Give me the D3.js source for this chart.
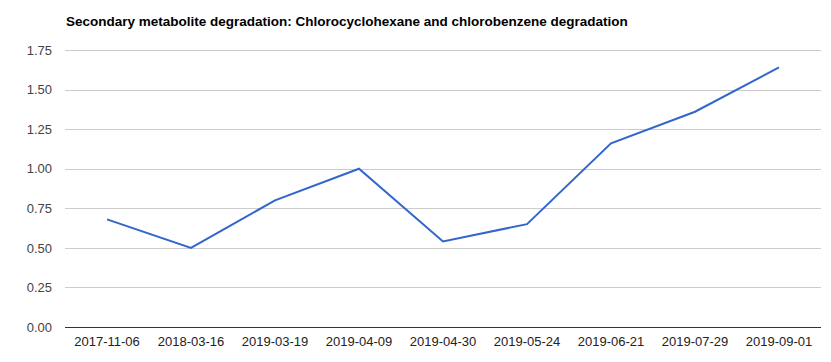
<!DOCTYPE html>
<html>
<head>
<meta charset="utf-8">
<script src="https://cdn.jsdelivr.net/npm/d3@7"></script>
<style>
  body { margin: 0; background: #fff; }
  text { font-family: Arial, "Liberation Sans", sans-serif; }
</style>
</head>
<body>
<div id="chart"></div>
<script>
const title = "Secondary metabolite degradation: Chlorocyclohexane and chlorobenzene degradation";
const dates = ["2017-11-06", "2018-03-16", "2019-03-19", "2019-04-09", "2019-04-30",
               "2019-05-24", "2019-06-21", "2019-07-29", "2019-09-01"];
const values = [0.68, 0.50, 0.80, 1.00, 0.54, 0.65, 1.16, 1.36, 1.64];
const yTicks = [0, 0.25, 0.5, 0.75, 1, 1.25, 1.5, 1.75];

const W = 831, H = 362;
const margin = { top: 50, right: 10, bottom: 35, left: 65 },
      width = W - margin.left - margin.right,
      height = H - margin.top - margin.bottom;

const svgRoot = d3.select("#chart").append("svg")
  .attr("width", W).attr("height", H);

svgRoot.append("text")
  .attr("x", 66).attr("y", 26)
  .style("font-size", "13.5px")
  .style("font-weight", "bold")
  .attr("fill", "#000")
  .text(title);

const svg = svgRoot.append("g")
  .attr("transform", `translate(${margin.left},${margin.top})`);

const x = d3.scaleBand().domain(dates).range([0, width]);
const y = d3.scaleLinear().domain([0, 1.75]).range([height, 0]);

// gridlines
svg.append("g")
  .selectAll("line")
  .data(yTicks)
  .join("line")
  .attr("x1", 0).attr("x2", width)
  .attr("y1", d => Math.round(y(d)) + 0.5)
  .attr("y2", d => Math.round(y(d)) + 0.5)
  .attr("stroke", d => d === 0 ? "#333" : "#ccc")
  .attr("stroke-width", 1);

const yAxis = svg.append("g")
  .call(d3.axisLeft(y).tickValues(yTicks).tickFormat(d3.format(".2f")).tickSize(0).tickPadding(13));
yAxis.select(".domain").remove();
yAxis.selectAll("text").style("font-size", "13px").attr("fill", "#444");

const xAxis = svg.append("g")
  .attr("transform", `translate(0,${height})`)
  .call(d3.axisBottom(x).tickSize(0).tickPadding(10));
xAxis.select(".domain").remove();
xAxis.selectAll("text").style("font-size", "13px").attr("fill", "#222");

const line = d3.line()
  .x((d, i) => x(dates[i]) + x.bandwidth() / 2)
  .y(d => y(d));

svg.append("path")
  .datum(values)
  .attr("fill", "none")
  .attr("stroke", "#3366cc")
  .attr("stroke-width", 2)
  .attr("d", line);
</script>
</body>
</html>
